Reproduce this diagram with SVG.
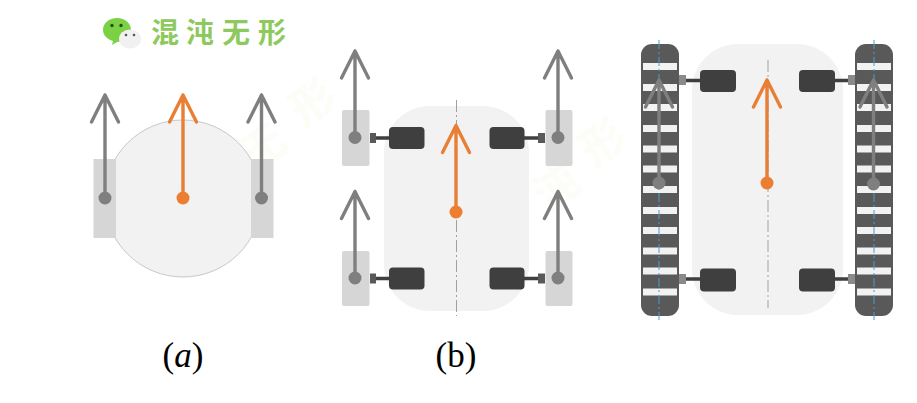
<svg xmlns="http://www.w3.org/2000/svg" width="917" height="403" viewBox="0 0 917 403">
<style>
.wheel{fill:#d6d6d6}
.body{fill:#f2f2f2}
.ga{fill:none;stroke:#7f7f7f;stroke-width:3.400;stroke-linecap:round;stroke-linejoin:round}
.oa{fill:none;stroke:#e97f35;stroke-width:3.400;stroke-linecap:round;stroke-linejoin:round}
.gd{fill:#7f7f7f}
.od{fill:#ed7d31}
.motor{fill:#3f3f3f}
.shaft{stroke:#3f3f3f;stroke-width:3.500}
.sq{fill:#595959}
.sq2{fill:#8a8a8a}
.track{fill:#595959}
.slot{fill:#f2f2f2}
.cl{stroke:#a0a0a0;stroke-width:1;stroke-dasharray:12 3 2 3;fill:none}
.bl{stroke:#4a9fc8;stroke-width:1;stroke-dasharray:9 3 2 3;fill:none}
.cap{font-family:"Liberation Serif",serif;font-size:35px;fill:#000;text-anchor:middle}
.wm{font-family:"Noto Sans CJK SC",sans-serif;font-weight:700;font-size:28px;fill:#8ec95e;text-anchor:middle}
.wf{font-family:"Noto Sans CJK SC",sans-serif;font-weight:700;font-size:44px;fill:#fcfdf7;text-anchor:middle}
</style>
<defs>
<path id="up" d="M0 0V-103M-13.500-76L0-103L13.500-76"/>
<path id="up2" d="M0 0V-86.500M-13.500-59.500L0-86.500L13.500-59.500"/>
</defs>
<rect width="917" height="403" fill="#fff"/>

<g id="faint-watermark">
<text class="wf" transform="translate(272 160) rotate(-35)">无</text>
<text class="wf" transform="translate(322 115) rotate(-35)">形</text>
<text class="wf" transform="translate(565 200) rotate(-35)">沌</text>
<text class="wf" transform="translate(612 155) rotate(-35)">形</text>
</g>

<g id="logo">
<path d="M117 18c8 0 14 5 14 12s-6 12-14 12l-5 3 1-4c-6-2-10-6-10-11c0-7 6-12 14-12z" fill="#7bd144"/>
<circle cx="112" cy="25.500" r="1.700" fill="#2b4a1a"/>
<circle cx="121" cy="25.500" r="1.700" fill="#2b4a1a"/>
<ellipse cx="130" cy="39" rx="11" ry="9.500" fill="#f1f1f1"/>
<circle cx="126" cy="35" r="1.300" fill="#555"/>
<circle cx="134" cy="35" r="1.300" fill="#555"/>
</g>
<g id="logo-text">
<text class="wm" x="165" y="43">混</text>
<text class="wm" x="200" y="43">沌</text>
<text class="wm" x="236" y="43">无</text>
<text class="wm" x="272" y="43">形</text>
</g>

<g id="robot-a">
<circle cx="183" cy="198.500" r="78.500" fill="#f2f2f2" stroke="#c8c8c8" stroke-width="1"/>
<rect class="wheel" x="93.500" y="159" width="22.500" height="79"/>
<rect class="wheel" x="251" y="159" width="22.500" height="79"/>
</g>
<g id="robot-b">
<rect class="body" x="384" y="106" width="145" height="205" rx="46"/>
<g id="wheels-b">
<rect class="wheel" x="342" y="110" width="27.500" height="56" rx="2"/>
<rect class="wheel" x="342" y="251" width="27.500" height="55" rx="2"/>
<rect class="wheel" x="545.500" y="110" width="27" height="56" rx="2"/>
<rect class="wheel" x="545.500" y="251" width="27" height="55" rx="2"/>
</g>
<g id="motors-b">
<path class="shaft" d="M376 138H390M376 278.500H390M524 138H538M524 278.500H538"/>
<rect class="sq" x="370" y="133" width="6" height="10"/>
<rect class="sq" x="370" y="273.500" width="6" height="10"/>
<rect class="sq" x="538" y="133" width="7" height="10"/>
<rect class="sq" x="538" y="273.500" width="7" height="10"/>
<rect class="motor" x="389" y="127" width="35.500" height="22" rx="4"/>
<rect class="motor" x="389" y="267.500" width="35.500" height="22" rx="4"/>
<rect class="motor" x="489.500" y="127" width="35" height="22" rx="4"/>
<rect class="motor" x="489.500" y="267.500" width="35" height="22" rx="4"/>
</g>
<path class="cl" d="M456.500 100V316"/>
</g>
<g id="robot-c">
<rect class="body" x="692" y="44" width="151" height="271" rx="46"/>
<path class="cl" d="M768 60V308"/>
<g id="track-left">
<rect class="track" x="641" y="44" width="38" height="272" rx="11"/>
<g class="slot">
<rect x="643" y="63" width="34" height="7"/><rect x="643" y="84" width="34" height="7"/><rect x="643" y="104" width="34" height="7"/><rect x="643" y="125" width="34" height="7"/><rect x="643" y="145.500" width="34" height="7"/><rect x="643" y="165.500" width="34" height="7"/><rect x="643" y="186" width="34" height="7"/><rect x="643" y="207" width="34" height="7"/><rect x="643" y="227" width="34" height="7"/><rect x="643" y="247.500" width="34" height="7"/><rect x="643" y="267.500" width="34" height="7"/><rect x="643" y="288.500" width="34" height="7"/>
</g>
<path class="bl" d="M659 40V320"/>
</g>
<g id="track-right">
<rect class="track" x="855" y="44" width="38" height="272" rx="11"/>
<g class="slot">
<rect x="857" y="63" width="34" height="7"/><rect x="857" y="84" width="34" height="7"/><rect x="857" y="104" width="34" height="7"/><rect x="857" y="125" width="34" height="7"/><rect x="857" y="145.500" width="34" height="7"/><rect x="857" y="165.500" width="34" height="7"/><rect x="857" y="186" width="34" height="7"/><rect x="857" y="207" width="34" height="7"/><rect x="857" y="227" width="34" height="7"/><rect x="857" y="247.500" width="34" height="7"/><rect x="857" y="267.500" width="34" height="7"/><rect x="857" y="288.500" width="34" height="7"/>
</g>
<path class="bl" d="M874 40V320"/>
</g>
<g id="motors-c">
<path class="shaft" d="M686 80.500H701M686 279H701M834 80.500H849M834 279H849"/>
<rect class="sq2" x="679" y="75" width="7" height="10"/>
<rect class="sq2" x="679" y="274" width="7" height="10"/>
<rect class="sq2" x="848" y="75" width="7" height="10"/>
<rect class="sq2" x="848" y="274" width="7" height="10"/>
<rect class="motor" x="700" y="70" width="36" height="22" rx="4"/>
<rect class="motor" x="700" y="268.500" width="36" height="23" rx="4"/>
<rect class="motor" x="799" y="70" width="36" height="22" rx="4"/>
<rect class="motor" x="799" y="268.500" width="36" height="23" rx="4"/>
</g>
</g>

<g id="connectors">
<use href="#up" class="ga" transform="translate(105 198)"/>
<use href="#up" class="ga" transform="translate(261.500 198)"/>
<use href="#up" class="oa" transform="translate(183 198)"/>
<use href="#up2" class="ga" transform="translate(355 137.500)"/>
<use href="#up2" class="ga" transform="translate(355 278)"/>
<use href="#up2" class="ga" transform="translate(558 137.500)"/>
<use href="#up2" class="ga" transform="translate(558 278)"/>
<use href="#up2" class="oa" transform="translate(456 212)"/>
<use href="#up" class="ga" transform="translate(659 183)"/>
<use href="#up" class="ga" transform="translate(873.500 183)"/>
<use href="#up" class="oa" transform="translate(767 183)"/>
</g>
<g id="pivots">
<circle class="gd" cx="105" cy="198" r="6.500"/>
<circle class="gd" cx="261.500" cy="198" r="6.500"/>
<circle class="od" cx="183" cy="198" r="6.500"/>
<circle class="gd" cx="355" cy="137.500" r="6.500"/>
<circle class="gd" cx="355" cy="278" r="6.500"/>
<circle class="gd" cx="558" cy="137.500" r="6.500"/>
<circle class="gd" cx="558" cy="278" r="6.500"/>
<circle class="od" cx="456" cy="212" r="6.500"/>
<circle class="gd" cx="659" cy="183" r="6.500"/>
<circle class="gd" cx="873.500" cy="184" r="6.500"/>
<circle class="od" cx="767" cy="183" r="6.500"/>
</g>
<g id="captions">
<text class="cap" x="183" y="367">(<tspan font-style="italic">a</tspan>)</text>
<text class="cap" x="456" y="367">(b)</text>
</g>
</svg>
